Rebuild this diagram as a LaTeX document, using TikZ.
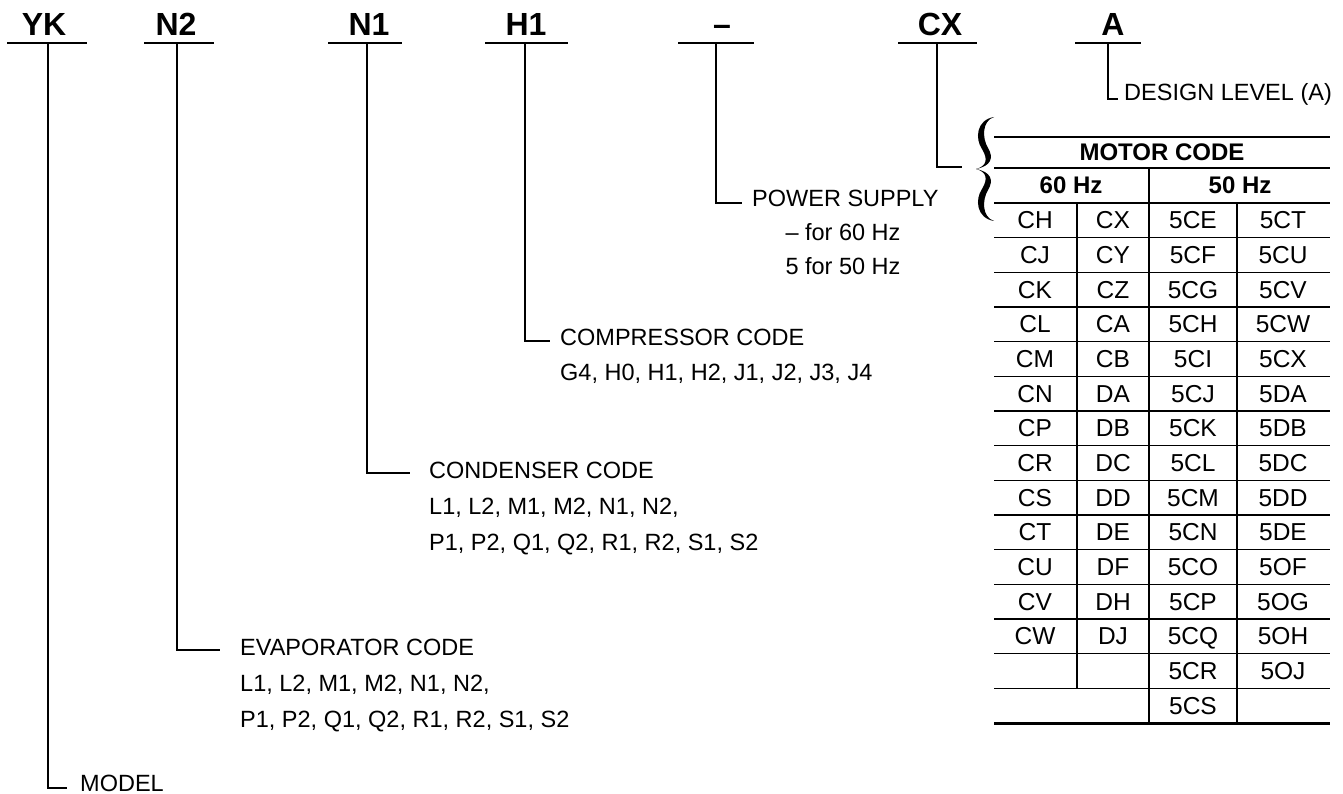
\documentclass[tikz,border=0pt]{standalone}
\usepackage{fontspec}
\setmainfont{Liberation Sans}
\begin{document}
\begin{tikzpicture}[x=1pt,y=-1pt,
  hdr/.style={font=\fontsize{32}{36}\selectfont\bfseries, anchor=base, inner sep=0pt},
  lbl/.style={font=\fontsize{23.5}{28}\selectfont, anchor=base west, inner sep=0pt},
  lblc/.style={font=\fontsize{23.5}{28}\selectfont, anchor=base, inner sep=0pt},
  cell/.style={font=\fontsize{24.5}{28}\selectfont, anchor=base, inner sep=0pt},
  thd/.style={font=\fontsize{24}{28}\selectfont\bfseries, anchor=base, inner sep=0pt},
  hrule/.style={line width=2pt},
  conn/.style={line width=1.4pt},
  trow/.style={line width=1.3pt},
  tthick/.style={line width=2.6pt}]
\useasboundingbox (0,0) rectangle (1343,794);

% ---- header codes ----
\node[hdr] (yk) at (44,36) {YK};
\node[hdr] (n2) at (176,36) {N2};
\node[hdr] (n1) at (369,36) {N1};
\node[hdr] (h1) at (526,36) {H1};
\node[hdr] (ps) at (722,36) {--};
\node[hdr] (cx) at (940,36) {CX};
\node[hdr] (a) at (1113,36) {A};

\draw[hrule] (7,43) -- (87,43);
\draw[hrule] (144,43) -- (214,43);
\draw[hrule] (328,43) -- (402,43);
\draw[hrule] (485,43) -- (568,43);
\draw[hrule] (678,43) -- (754,43);
\draw[hrule] (898,43) -- (977,43);
\draw[hrule] (1075,43) -- (1141,43);

% ---- labels ----
\node[lbl] (model) at (80,791) {MODEL};
\node[lbl] (evap) at (240,655) {EVAPORATOR CODE};
\node[lbl] (evap2) at (240,691) {L1, L2, M1, M2, N1, N2,};
\node[lbl] (evap3) at (240,727) {P1, P2, Q1, Q2, R1, R2, S1, S2};
\node[lbl] (cond) at (429,478) {CONDENSER CODE};
\node[lbl] (cond2) at (429,514) {L1, L2, M1, M2, N1, N2,};
\node[lbl] (cond3) at (429,550) {P1, P2, Q1, Q2, R1, R2, S1, S2};
\node[lbl] (comp) at (560,345) {COMPRESSOR CODE};
\node[lbl] (comp2) at (560,380) {G4, H0, H1, H2, J1, J2, J3, J4};
\node[lbl] (pow) at (752,207) {POWER SUPPLY};
\node[lblc] (pow2) at (843,241) {-- for 60 Hz};
\node[lblc] (pow3) at (843,274) {5 for 50 Hz};
\node[lbl] (des) at (1124,101) {DESIGN LEVEL (A)};

% ---- connectors ----
\coordinate (ykT) at (48,43);   \coordinate (ykE) at (67,788);
\coordinate (n2T) at (177,43);  \coordinate (n2E) at (220,650);
\coordinate (n1T) at (367,43);  \coordinate (n1E) at (410,473);
\coordinate (h1T) at (525,43);  \coordinate (h1E) at (550,341);
\coordinate (psT) at (716,43);  \coordinate (psE) at (742,203);
\coordinate (cxT) at (937,43);  \coordinate (cxE) at (962,167);
\coordinate (aT) at (1108,43);  \coordinate (aE) at (1118,99);
\draw[conn] (ykT) |- (ykE);
\draw[conn] (n2T) |- (n2E);
\draw[conn] (n1T) |- (n1E);
\draw[conn] (h1T) |- (h1E);
\draw[conn] (psT) |- (psE);
\draw[conn] (cxT) |- (cxE);
\draw[conn] (aT) |- (aE);

% ---- brace ----
\fill (994,117) .. controls (976,120) and (975,139) .. (982,149)
      .. controls (988,159) and (987,166) .. (976,169)
      .. controls (991,166) and (994,158) .. (988,148)
      .. controls (982,138) and (982,121) .. (994,117) -- cycle;
\fill (994,221) .. controls (976,218) and (975,199) .. (982,189)
      .. controls (988,179) and (987,172) .. (976,169)
      .. controls (991,172) and (994,180) .. (988,190)
      .. controls (982,200) and (982,217) .. (994,221) -- cycle;

% ---- table ----
\draw[line width=2pt] (994,137) -- (1330,137);
\draw[line width=1.5pt] (994,168) -- (1330,168);
\draw[tthick] (994,203) -- (1330,203);
\foreach \k in {1,...,14} {
  \draw[trow] (994,{203+34.667*\k}) -- (1330,{203+34.667*\k});
}
\draw[line width=3pt] (994,723) -- (1330,723);
\draw[trow] (1149,168) -- (1149,723);
\draw[trow] (1077,203) -- (1077,688);
\draw[trow] (1237,203) -- (1237,723);

\node[thd] (mc) at (1162,161) {MOTOR CODE};
\node[thd] (h60) at (1071,194) {60 Hz};
\node[thd] (h50) at (1240,194) {50 Hz};

\foreach \a/\b/\c/\d [count=\i from 0] in {
  CH/CX/5CE/5CT, CJ/CY/5CF/5CU, CK/CZ/5CG/5CV, CL/CA/5CH/5CW,
  CM/CB/5CI/5CX, CN/DA/5CJ/5DA, CP/DB/5CK/5DB, CR/DC/5CL/5DC,
  CS/DD/5CM/5DD, CT/DE/5CN/5DE, CU/DF/5CO/5OF, CV/DH/5CP/5OG,
  CW/DJ/5CQ/5OH, {}/{}/5CR/5OJ, {}/{}/5CS/{}} {
  \pgfmathsetmacro{\yb}{203+34.667*\i+17.33+8.6}
  \node[cell] (c\i a) at (1035,\yb) {\a};
  \node[cell] (c\i b) at (1113,\yb) {\b};
  \node[cell] (c\i c) at (1193,\yb) {\c};
  \node[cell] (c\i d) at (1283,\yb) {\d};
}
\end{tikzpicture}
\end{document}
